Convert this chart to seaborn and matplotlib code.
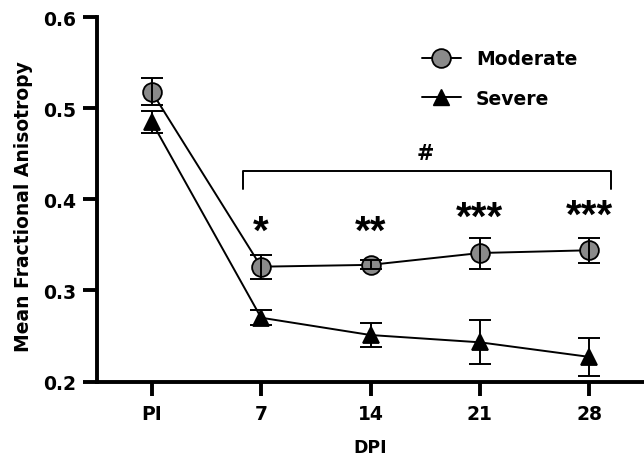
import numpy as np
import pandas as pd
import seaborn as sns
import matplotlib
matplotlib.use("Agg")
import matplotlib.pyplot as plt
from matplotlib.lines import Line2D

# Mean fractional anisotropy (with SEM) per time point
dpi_labels = ["PI", "7", "14", "21", "28"]
moderate_mean = [0.518, 0.326, 0.328, 0.341, 0.344]
moderate_sem = [0.015, 0.013, 0.005, 0.017, 0.014]
severe_mean = [0.485, 0.270, 0.251, 0.243, 0.227]
severe_sem = [0.012, 0.008, 0.013, 0.024, 0.021]
star_labels = ["*", "**", "***", "***"]
star_heights = [0.3645, 0.3645, 0.380, 0.3815]
star_dpi = ["7", "14", "21", "28"]

df = pd.DataFrame({
    "DPI": dpi_labels * 2,
    "FA": moderate_mean + severe_mean,
    "SEM": moderate_sem + severe_sem,
    "Group": ["Moderate"] * 5 + ["Severe"] * 5,
})

sns.set_theme(style="ticks")
plt.rcParams["font.family"] = ["DejaVu Sans"]
plt.rcParams["font.weight"] = "bold"
plt.rcParams["text.color"] = "black"
plt.rcParams["axes.labelcolor"] = "black"

fig = plt.figure(figsize=(6.44, 4.56), dpi=100)
ax = fig.add_axes([97 / 644, 1 - 382.5 / 456, 547 / 644, (382.5 - 18) / 456])

styles = {
    "Moderate": dict(markersize=13.5, markerfacecolor="#8a8a8a"),
    "Severe": dict(markersize=11.5, markerfacecolor="black"),
}

sns.lineplot(data=df, x="DPI", y="FA", hue="Group", style="Group",
             palette={"Moderate": "black", "Severe": "black"},
             markers={"Moderate": "o", "Severe": "^"}, dashes=False,
             linewidth=1.4, ax=ax, legend=False, zorder=2,
             markersize=13, markeredgecolor="black", markeredgewidth=1.3)

# per-group marker size and face colour
for line, grp in zip(ax.lines, ["Moderate", "Severe"]):
    st = styles[grp]
    line.set_markersize(st["markersize"])
    line.set_markerfacecolor(st["markerfacecolor"])

xpos = np.arange(len(dpi_labels))
for means, sems in [(moderate_mean, moderate_sem), (severe_mean, severe_sem)]:
    ax.errorbar(xpos, means, yerr=sems, fmt="none", ecolor="black",
                elinewidth=1.4, capsize=8, capthick=1.4, zorder=3)

# significance bracket and asterisks
ax.plot([0.83, 0.83, 4.2, 4.2], [0.411, 0.4305, 0.4305, 0.411],
        color="black", linewidth=1.4, zorder=1)
ax.text(2.5, 0.451, "#", ha="center", va="center", fontsize=15,
        fontweight="bold")
for lab, h, d in zip(star_labels, star_heights, star_dpi):
    ax.text(dpi_labels.index(d), h, lab, ha="center", va="center",
            fontsize=29, fontweight="bold", family="Liberation Sans")

ax.set_xlim(-0.5, 4.5)
ax.set_ylim(0.2, 0.6)
ax.set_yticks([0.2, 0.3, 0.4, 0.5, 0.6])
ax.set_yticklabels(["0.2", "0.3", "0.4", "0.5", "0.6"])
ax.tick_params(axis="both", width=2.8, length=10, labelsize=13.5,
               color="black", labelcolor="black")
ax.tick_params(axis="x", pad=6)
ax.tick_params(axis="y", pad=5)
for lbl in ax.get_xticklabels() + ax.get_yticklabels():
    lbl.set_fontweight("bold")
sns.despine(ax=ax)
for side in ["left", "bottom"]:
    ax.spines[side].set_linewidth(2.8)
    ax.spines[side].set_color("black")

ax.set_xlabel("DPI", fontsize=12.5, fontweight="bold", labelpad=11)
ax.set_ylabel("Mean Fractional Anisotropy", fontsize=13.5, fontweight="bold")
ax.yaxis.set_label_coords(-0.117, 0.484)

handles = [
    Line2D([], [], color="black", linewidth=1.4, marker="o", markersize=13.5,
           markerfacecolor="#8a8a8a", markeredgecolor="black",
           markeredgewidth=1.3),
    Line2D([], [], color="black", linewidth=1.4, marker="^", markersize=11.5,
           markerfacecolor="black", markeredgecolor="black"),
]
fig.legend(handles, ["Moderate", "Severe"], loc="center left",
           bbox_to_anchor=(421.7 / 644, 1 - 79.4 / 456),
           frameon=False, handlelength=2.1,
           handletextpad=0.8, labelspacing=1.1, borderpad=0,
           borderaxespad=0, prop={"weight": "bold", "size": 13.5})

fig.savefig("out.png", dpi=100)
